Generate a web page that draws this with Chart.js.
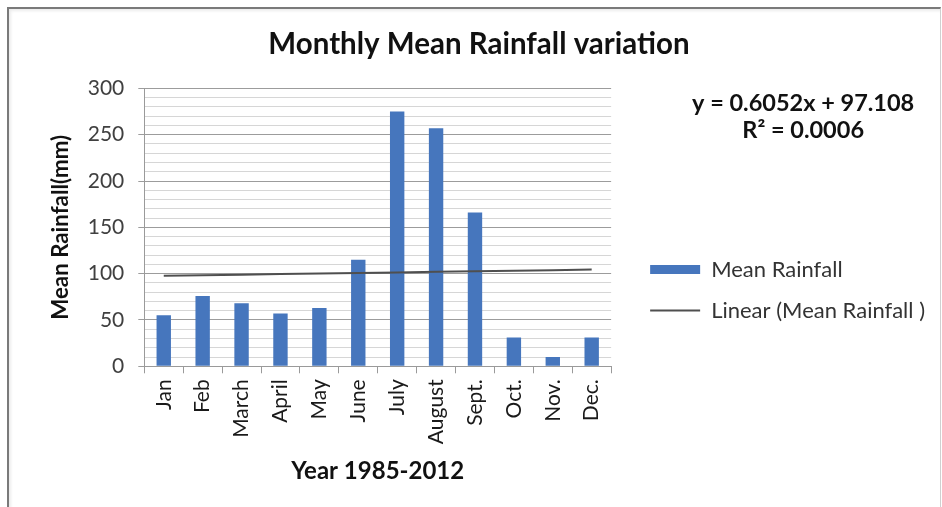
<!DOCTYPE html>
<html>
<head>
<meta charset="utf-8">
<script src="https://cdn.jsdelivr.net/npm/chart.js@4.4.1/dist/chart.umd.min.js"></script>
<style>
  html, body { margin: 0; padding: 0; background: #fff; }
  #wrap { position: relative; width: 942px; height: 507px; overflow: hidden; }
  #frame {
    position: absolute; left: 7px; top: 7px; width: 931px; height: 520px;
    border-left: 2px solid #7a7a7a; border-top: 2px solid #7a7a7a;
    border-right: 1px solid #d0d0d0;
    box-shadow: inset 2px 2px 3px rgba(0,0,0,0.08);
  }
  #chart { position: absolute; left: 0; top: 0; }
</style>
</head>
<body>
<div id="wrap">
  <div id="frame"></div>
  <canvas id="chart" width="942" height="507"></canvas>
</div>
<script>
// monthly mean rainfall 1985-2012 (mm)
let months = ['Jan', 'Feb', 'March', 'April', 'May', 'June', 'July', 'August', 'Sept.', 'Oct.', 'Nov.', 'Dec.'];
let rainfall = [55, 76, 68, 57, 63, 115, 275, 257, 166, 31, 10, 31];
// linear trend fitted in the spreadsheet: y = slope*x + intercept
let trendSlope = 0.6052;
let trendIntercept = 97.108;
let trendR2 = 0.0006;
let trend = months.map((m, i) => trendSlope * (i + 1) + trendIntercept);

let fontName = 'Lato, "Liberation Sans", sans-serif';

// trend equation text on the right side, above the legend
let equationText = {
    id: 'equationText',
    afterDraw(c) {
        let ctx = c.ctx;
        let a = c.chartArea;
        ctx.save();
        ctx.font = 'bold 23.5px ' + fontName;
        ctx.fillStyle = '#111';
        ctx.textAlign = 'center';
        ctx.textBaseline = 'middle';
        let x = a.right + 192;
        ctx.fillText('y = ' + trendSlope + 'x + ' + trendIntercept, x, a.top + 15);
        ctx.fillText('R\u00b2 = ' + trendR2.toFixed(4), x, a.top + 42);
        ctx.restore();
    }
};

// the legend sits a bit lower and further right than the default layout puts it
let legendShift = {
    id: 'legendShift',
    afterLayout(c) {
        let l = c.legend;
        let dx = 20, dy = 45;
        l.left += dx; l.right += dx;
        l.top += dy; l.bottom += dy;
    }
};

let chart = document.getElementById('chart').getContext('2d');
let rainChart = new Chart(chart, {
    type: 'bar',
    data: {
        labels: months,
        datasets: [{
            label: 'Mean Rainfall',
            data: rainfall,
            backgroundColor: '#4676bd',
            borderWidth: 0,
            barPercentage: 0.37,
            categoryPercentage: 1,
            pointStyle: 'rect',
            order: 1
        }, {
            type: 'line',
            label: 'Linear (Mean Rainfall )',
            data: trend,
            borderColor: '#4f4f4f',
            borderWidth: 2,
            pointRadius: 0,
            pointStyle: 'line',
            fill: false,
            order: 0
        }]
    },
    options: {
        responsive: false,
        animation: false,
        layout: { padding: { left: 43, right: 27, top: 0, bottom: 17 } },
        plugins: {
            title: {
                display: true,
                text: 'Monthly Mean Rainfall variation',
                color: '#111',
                font: { family: fontName, size: 29.5, weight: 'bold' },
                padding: { top: 27, bottom: 26 }
            },
            legend: {
                position: 'right',
                maxWidth: 340,
                labels: {
                    usePointStyle: true,
                    pointStyleWidth: 50,
                    boxHeight: 9,
                    padding: 19,
                    color: '#333',
                    font: { family: fontName, size: 22 },
                    sort: (a, b) => a.datasetIndex - b.datasetIndex
                }
            },
            tooltip: { enabled: false }
        },
        scales: {
            x: {
                grid: {
                    display: true,
                    drawOnChartArea: false,
                    offset: true,
                    tickLength: 7,
                    color: '#9a9a9a'
                },
                border: { color: '#9a9a9a' },
                ticks: {
                    minRotation: 90,
                    maxRotation: 90,
                    padding: 6,
                    color: '#1a1a1a',
                    font: { family: fontName, size: 21 }
                },
                title: {
                    display: true,
                    text: 'Year 1985-2012',
                    color: '#111',
                    font: { family: fontName, size: 24, weight: 'bold' },
                    padding: { top: 7, bottom: 4 }
                }
            },
            y: {
                min: 0,
                max: 300,
                ticks: {
                    stepSize: 10,
                    autoSkip: false,
                    color: '#404040',
                    padding: 14,
                    font: { family: fontName, size: 21 },
                    callback: v => (v % 50 === 0 ? v : '')
                },
                grid: {
                    color: ctx => (ctx.tick && ctx.tick.value % 50 === 0 ? '#9c9c9c' : '#d6d6d6'),
                    tickColor: ctx => (ctx.tick && ctx.tick.value % 50 === 0 ? '#9c9c9c' : 'rgba(0,0,0,0)'),
                    tickLength: 6
                },
                border: { color: '#9a9a9a' },
                title: {
                    display: true,
                    text: 'Mean Rainfall(mm)',
                    color: '#111',
                    font: { family: fontName, size: 22.3, weight: 'bold' },
                    padding: { top: 4, bottom: 0 }
                }
            }
        }
    },
    plugins: [equationText, legendShift]
});
</script>
</body>
</html>
